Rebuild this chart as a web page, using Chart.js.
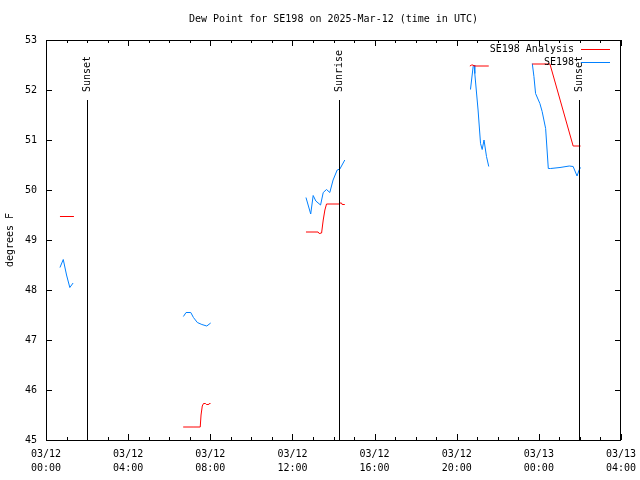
<!DOCTYPE html>
<html>
<head>
<meta charset="utf-8">
<title>Dew Point SE198</title>
<script src="https://cdn.jsdelivr.net/npm/chart.js@4/dist/chart.umd.min.js"></script>
<style>
  html, body { margin: 0; padding: 0; background: #fff; }
  canvas { display: block; }
</style>
</head>
<body>
<canvas id="dewChart" width="640" height="480"></canvas>
<script>
// hours since 03/12 00:00 UTC, null values break the line
const analysisTimes = [0.68, 1.36, 2,
  6.68, 7.16, 7.51, 7.55, 7.61, 7.67, 7.77, 7.81, 7.93, 7.95, 8.01, 10,
  12.66, 13.25, 13.30, 13.42, 13.50, 13.58, 13.66, 14.28, 14.32, 14.39, 14.42, 14.55, 17,
  20.64, 20.73, 20.80, 20.83, 21.56, 23,
  23.68, 24.54, 25.67, 26.03];
const analysisDewpt = [49.47, 49.47, null,
  45.26, 45.26, 45.26, 45.5, 45.68, 45.73, 45.73, 45.71, 45.71, 45.73, 45.73, null,
  49.16, 49.16, 49.13, 49.14, 49.4, 49.6, 49.72, 49.72, 49.74, 49.74, 49.71, 49.71, null,
  52.48, 52.5, 52.5, 52.48, 52.48, null,
  52.52, 52.52, 50.88, 50.88];

const obsTimes = [0.68, 0.84, 1.00, 1.16, 1.32, 2,
  6.69, 6.82, 7.05, 7.18, 7.37, 7.59, 7.83, 8.02, 10,
  12.66, 12.89, 13.01, 13.14, 13.37, 13.50, 13.66, 13.82, 13.98, 14.18, 14.31, 14.55, 17,
  20.67, 20.80, 20.85, 20.88, 21.04, 21.16, 21.24, 21.33, 21.45, 21.56, 23,
  23.68, 23.76, 23.84, 24.05, 24.16, 24.33, 24.46, 24.57, 25.03, 25.48, 25.67, 25.86, 25.96, 26.03];
const obsDewpt = [48.45, 48.61, 48.3, 48.05, 48.14, null,
  47.47, 47.55, 47.55, 47.45, 47.35, 47.31, 47.28, 47.34, null,
  49.85, 49.52, 49.89, 49.78, 49.7, 49.95, 50.01, 49.95, 50.2, 50.4, 50.42, 50.6, null,
  52.01, 52.47, 52.5, 52.33, 51.6, 50.93, 50.81, 51.0, 50.67, 50.47, null,
  52.53, 52.27, 51.93, 51.73, 51.57, 51.23, 50.43, 50.43, 50.45, 50.48, 50.47, 50.28, 50.4, 50.45];

const eventNames = ['Sunset', 'Sunrise', 'Sunset'];
const eventTimes = [1.98, 14.25, 25.96];
const eventTop = 51.8;

const xTickLabels = {0: ['03/12', '00:00'], 4: ['03/12', '04:00'], 8: ['03/12', '08:00'],
  12: ['03/12', '12:00'], 16: ['03/12', '16:00'], 20: ['03/12', '20:00'],
  24: ['03/13', '00:00'], 28: ['03/13', '04:00']};

const FONT = '"DejaVu Sans Mono", monospace';
Chart.defaults.font.family = FONT;
Chart.defaults.font.size = 10;
Chart.defaults.color = '#000';

const toPts = (ts, vs) => ts.map((t, i) => ({x: t, y: vs[i]}));

// gnuplot-like frame, inward ticks, event lines and legend
const gnuFrame = {
  id: 'gnuFrame',
  afterDatasetsDraw(chart){
    const ctx = chart.ctx, a = chart.chartArea;
    const xs = chart.scales.x, ys = chart.scales.y;
    ctx.save();
    ctx.strokeStyle = '#000';
    ctx.lineWidth = 1;
    ctx.strokeRect(a.left + 0.5, a.top + 0.5, a.right - a.left - 1, a.bottom - a.top);
    ctx.beginPath();
    xs.ticks.forEach(t => {
      const px = Math.round(xs.getPixelForValue(t.value)) + 0.5;
      const len = t.value % 4 === 0 ? 6 : 3;
      ctx.moveTo(px, a.bottom); ctx.lineTo(px, a.bottom - len);
      ctx.moveTo(px, a.top); ctx.lineTo(px, a.top + len);
    });
    ys.ticks.forEach(t => {
      const py = Math.round(ys.getPixelForValue(t.value)) + 0.5;
      ctx.moveTo(a.left, py); ctx.lineTo(a.left + 6, py);
      ctx.moveTo(a.right, py); ctx.lineTo(a.right - 6, py);
    });
    ctx.stroke();

    // sunrise / sunset markers
    ctx.font = '10px ' + FONT;
    ctx.fillStyle = '#000';
    const topPx = ys.getPixelForValue(eventTop);
    eventTimes.forEach((t, i) => {
      const px = Math.round(xs.getPixelForValue(t)) + 0.5;
      ctx.beginPath();
      ctx.moveTo(px, topPx); ctx.lineTo(px, a.bottom);
      ctx.stroke();
      ctx.save();
      ctx.translate(px, topPx - 8);
      ctx.rotate(-Math.PI / 2);
      ctx.textAlign = 'left';
      ctx.textBaseline = 'middle';
      ctx.fillText(eventNames[i], 0, 0);
      ctx.restore();
    });

    // legend, top right inside the frame
    chart.data.datasets.forEach((ds, i) => {
      const y = a.top + 9 + i * 13;
      ctx.textAlign = 'right';
      ctx.textBaseline = 'middle';
      ctx.fillStyle = '#000';
      ctx.fillText(ds.label, a.right - 47, y);
      ctx.strokeStyle = ds.borderColor;
      ctx.beginPath();
      ctx.moveTo(a.right - 40, Math.round(y) + 0.5);
      ctx.lineTo(a.right - 11, Math.round(y) + 0.5);
      ctx.stroke();
    });
    ctx.restore();
  }
};

new Chart(document.getElementById('dewChart').getContext('2d'), {
  type: 'line',
  data: {
    datasets: [
      {label: 'SE198 Analysis', data: toPts(analysisTimes, analysisDewpt), borderColor: '#ff0000',
       borderWidth: 1, pointRadius: 0, spanGaps: false, tension: 0},
      {label: 'SE198', data: toPts(obsTimes, obsDewpt), borderColor: '#0080ff',
       borderWidth: 1, pointRadius: 0, spanGaps: false, tension: 0}
    ]
  },
  options: {
    responsive: false,
    animation: false,
    layout: {padding: {left: 0, right: 19, top: 0, bottom: 0}},
    plugins: {
      legend: {display: false},
      tooltip: {enabled: false},
      title: {
        display: true,
        fullSize: false,
        text: 'Dew Point for SE198 on 2025-Mar-12 (time in UTC)',
        font: {size: 10, weight: 'normal', family: FONT},
        color: '#000',
        padding: {top: 13, bottom: 15}
      }
    },
    scales: {
      x: {
        type: 'linear', min: 0, max: 28,
        grid: {display: false, drawTicks: false},
        border: {display: false},
        ticks: {
          stepSize: 1, autoSkip: false, maxRotation: 0, padding: 7,
          font: {size: 10, lineHeight: 1.4},
          callback: v => xTickLabels[v] || ''
        },
        afterFit: s => { s.height = 40; s.paddingLeft = 0; s.paddingRight = 0; }
      },
      y: {
        min: 45, max: 53,
        grid: {display: false, drawTicks: false},
        border: {display: false},
        ticks: {stepSize: 1, padding: 9},
        title: {display: true, text: 'degrees F', padding: {top: 4, bottom: 0}, font: {size: 10}},
        afterFit: s => { s.width = 46; }
      }
    }
  },
  plugins: [gnuFrame]
});
</script>
</body>
</html>
